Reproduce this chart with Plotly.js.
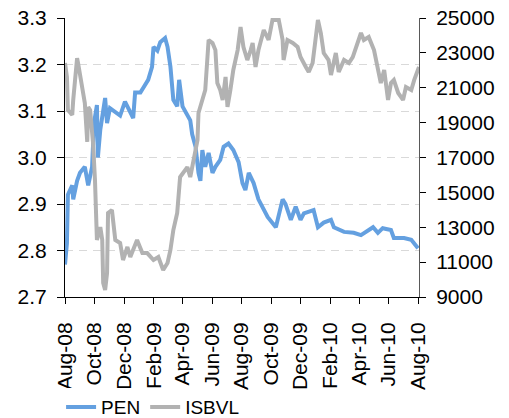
<!DOCTYPE html>
<html>
<head>
<meta charset="utf-8">
<script src="https://cdn.plot.ly/plotly-3.0.1.min.js"></script>
<style>html,body{margin:0;padding:0;background:#fff;}#chart{width:509px;height:418px;}</style>
</head>
<body>
<div id="chart"></div>
<script>
const penDates = ['2008-08-01','2008-08-05','2008-08-07','2008-08-16','2008-08-18','2008-08-26','2008-09-01','2008-09-11','2008-09-18','2008-09-26','2008-09-30','2008-10-06','2008-10-08','2008-10-13','2008-10-23','2008-10-27','2008-11-02','2008-11-13','2008-11-23','2008-12-03','2008-12-14','2008-12-20','2008-12-24','2009-01-04','2009-01-10','2009-01-20','2009-01-28','2009-01-31','2009-02-08','2009-02-14','2009-02-24','2009-03-01','2009-03-07','2009-03-13','2009-03-21','2009-03-25','2009-04-01','2009-04-11','2009-04-17','2009-04-21','2009-04-28','2009-05-04','2009-05-08','2009-05-12','2009-05-18','2009-05-25','2009-06-02','2009-06-08','2009-06-18','2009-06-25','2009-07-05','2009-07-15','2009-07-26','2009-08-03','2009-08-09','2009-08-16','2009-08-26','2009-09-05','2009-09-16','2009-09-24','2009-10-11','2009-10-25','2009-10-31','2009-11-11','2009-11-21','2009-12-01','2009-12-08','2009-12-28','2010-01-06','2010-01-18','2010-02-02','2010-02-08','2010-03-01','2010-03-21','2010-04-05','2010-04-30','2010-05-10','2010-05-20','2010-06-06','2010-06-12','2010-07-03','2010-07-18','2010-08-01'];
const penValues = [2.77,2.816,2.92,2.94,2.91,2.95,2.967,2.98,2.94,2.98,3.074,3.113,3.0,3.06,3.128,3.074,3.106,3.098,3.09,3.12,3.10,3.085,3.14,3.14,3.15,3.167,3.195,3.238,3.23,3.248,3.257,3.238,3.195,3.124,3.11,3.167,3.11,3.09,3.08,3.05,3.023,2.967,2.95,3.016,2.98,3.01,2.967,2.98,2.995,3.023,3.03,3.016,2.99,2.945,2.93,2.967,2.945,2.91,2.887,2.872,2.85,2.91,2.90,2.866,2.894,2.866,2.88,2.887,2.85,2.86,2.866,2.85,2.84,2.838,2.833,2.85,2.838,2.848,2.844,2.827,2.827,2.823,2.805];

const isbvlDates = ['2008-08-01','2008-08-05','2008-08-07','2008-08-16','2008-08-18','2008-08-26','2008-08-28','2008-09-05','2008-09-11','2008-09-16','2008-09-18','2008-09-22','2008-09-26','2008-09-28','2008-10-02','2008-10-06','2008-10-13','2008-10-17','2008-10-19','2008-10-23','2008-10-27','2008-10-29','2008-11-06','2008-11-13','2008-11-23','2008-11-29','2008-12-08','2008-12-14','2008-12-28','2009-01-08','2009-01-18','2009-01-31','2009-02-10','2009-02-20','2009-03-01','2009-03-07','2009-03-13','2009-03-21','2009-03-27','2009-04-03','2009-04-11','2009-04-17','2009-04-23','2009-05-02','2009-05-04','2009-05-12','2009-05-18','2009-05-25','2009-06-02','2009-06-08','2009-06-12','2009-06-18','2009-06-23','2009-06-29','2009-07-03','2009-07-09','2009-07-15','2009-07-24','2009-07-30','2009-08-05','2009-08-13','2009-08-20','2009-08-24','2009-08-30','2009-09-05','2009-09-16','2009-09-26','2009-10-04','2009-10-17','2009-10-25','2009-10-27','2009-11-04','2009-11-15','2009-11-25','2009-12-01','2009-12-12','2009-12-18','2009-12-26','2010-01-02','2010-01-06','2010-01-12','2010-01-18','2010-01-28','2010-02-02','2010-02-12','2010-02-18','2010-03-01','2010-03-11','2010-03-19','2010-03-30','2010-04-05','2010-04-11','2010-04-21','2010-05-02','2010-05-10','2010-05-16','2010-05-23','2010-05-31','2010-06-06','2010-06-12','2010-06-21','2010-07-01','2010-07-07','2010-07-18','2010-07-24','2010-08-03'];
const isbvlValues = [22420,21620,19720,19440,20300,22700,22420,21270,20120,17890,19900,19720,18580,17830,15700,12270,13010,12270,9800,9400,10380,13820,13990,12270,12100,11120,11870,11290,12270,11520,11520,11120,11290,10550,10950,11700,12840,13820,15880,16110,16450,15880,16860,18000,19550,20300,20870,23740,23570,23160,21270,20870,20300,21620,19900,20870,22020,23160,24480,23340,22590,23160,23570,22190,23160,24310,23740,24890,24890,23740,22590,23740,23570,23340,22760,22190,21900,22420,23740,24890,24140,22990,22590,21730,22990,21900,22590,22420,22760,23570,24140,23740,23910,23160,22190,21270,22020,20300,21270,21440,20700,20300,21040,20870,21440,22190];

const seriesNames = ['PEN','ISBVL'];

const font = 'Liberation Sans, Arial, sans-serif';
const traces = [
  {x: penDates, y: penValues, name: seriesNames[0], type: 'scatter', mode: 'lines',
   line: {color: '#64a0e0', width: 4}, yaxis: 'y'},
  {x: isbvlDates, y: isbvlValues, name: seriesNames[1], type: 'scatter', mode: 'lines',
   line: {color: '#b2b2b2', width: 4}, yaxis: 'y2'}
];

const layout = {
  width: 509, height: 418,
  margin: {l: 65, r: 90, t: 18, b: 121},
  paper_bgcolor: '#fff', plot_bgcolor: '#fff',
  font: {family: font, size: 21, color: '#000'},
  showlegend: true,
  legend: {orientation: 'h', xref: 'container', x: 0.12, xanchor: 'left',
           yref: 'container', y: 0.026, yanchor: 'middle',
           font: {size: 19}, traceorder: 'normal', itemwidth: 30},
  xaxis: {type: 'date', range: ['2008-08-01', '2010-08-03'], automargin: false,
          tick0: '2008-08-01', dtick: 'M2', tickformat: '%b-%y', tickangle: -90,
          showgrid: false, zeroline: false, showline: true, linecolor: '#000', linewidth: 1,
          ticks: 'outside', ticklen: 6, tickcolor: '#000', ticklabelstandoff: 10},
  yaxis: {range: [2.7, 3.3], dtick: 0.1, tickformat: '.1f', automargin: false,
          showgrid: true, gridcolor: '#d9d9d9', griddash: '8px,6px', gridwidth: 1,
          zeroline: false, showline: true, linecolor: '#000', linewidth: 1,
          ticks: 'outside', ticklen: 7, tickcolor: '#000', ticklabelstandoff: 6},
  yaxis2: {range: [9000, 25000], tick0: 9000, dtick: 2000, tickformat: 'd', automargin: false,
           overlaying: 'y', side: 'right',
           showgrid: false, zeroline: false, showline: true, linecolor: '#595959', linewidth: 1,
           ticks: 'outside', ticklen: 6, tickcolor: '#000', ticklabelstandoff: 6}
};

Plotly.newPlot('chart', traces, layout, {displayModeBar: false, staticPlot: true});
</script>
</body>
</html>
